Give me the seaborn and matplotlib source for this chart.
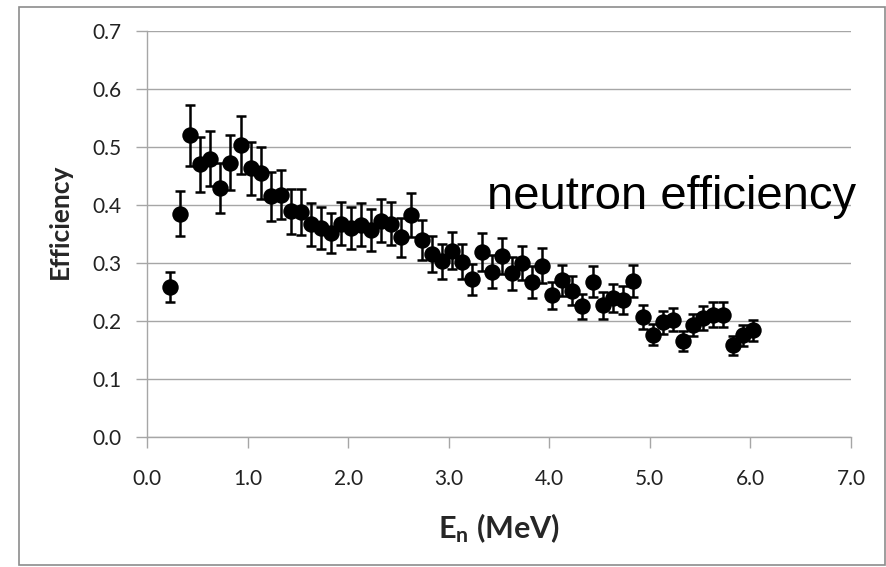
import numpy as np
import pandas as pd
import matplotlib
matplotlib.use('Agg')
import matplotlib.pyplot as plt
from matplotlib.patches import Rectangle
import seaborn as sns

# Data
energy = [0.23, 0.33, 0.43, 0.53, 0.63, 0.73, 0.83, 0.93, 1.03, 1.13,
          1.23, 1.33, 1.43, 1.53, 1.63, 1.73, 1.83, 1.93, 2.03, 2.13,
          2.23, 2.33, 2.43, 2.53, 2.63, 2.73, 2.83, 2.93, 3.03, 3.13,
          3.23, 3.33, 3.43, 3.53, 3.63, 3.73, 3.83, 3.93, 4.03, 4.13,
          4.23, 4.33, 4.43, 4.53, 4.63, 4.73, 4.83, 4.93, 5.03, 5.13,
          5.23, 5.33, 5.43, 5.53, 5.63, 5.73, 5.83, 5.93, 6.03]
efficiency = [0.258, 0.385, 0.520, 0.470, 0.480, 0.430, 0.473, 0.503, 0.463, 0.455,
              0.415, 0.418, 0.389, 0.388, 0.367, 0.360, 0.352, 0.368, 0.360, 0.366,
              0.357, 0.373, 0.368, 0.344, 0.383, 0.340, 0.315, 0.303, 0.321, 0.302,
              0.272, 0.319, 0.285, 0.312, 0.282, 0.300, 0.267, 0.295, 0.244, 0.270,
              0.252, 0.225, 0.268, 0.227, 0.240, 0.236, 0.269, 0.207, 0.176, 0.198,
              0.202, 0.166, 0.193, 0.205, 0.211, 0.211, 0.158, 0.175, 0.184]
error = [0.026, 0.039, 0.052, 0.047, 0.048, 0.043, 0.047, 0.050, 0.046, 0.045,
         0.042, 0.042, 0.039, 0.039, 0.037, 0.036, 0.035, 0.037, 0.036, 0.037,
         0.036, 0.037, 0.037, 0.034, 0.038, 0.034, 0.031, 0.030, 0.032, 0.030,
         0.027, 0.032, 0.028, 0.031, 0.028, 0.030, 0.027, 0.030, 0.024, 0.027,
         0.025, 0.022, 0.027, 0.023, 0.024, 0.024, 0.027, 0.021, 0.018, 0.020,
         0.020, 0.017, 0.019, 0.020, 0.021, 0.021, 0.016, 0.018, 0.018]

x_ticks = [0.0, 1.0, 2.0, 3.0, 4.0, 5.0, 6.0, 7.0]
y_ticks = [0.0, 0.1, 0.2, 0.3, 0.4, 0.5, 0.6, 0.7]

df = pd.DataFrame({'energy': energy, 'efficiency': efficiency, 'error': error})

sns.set_style('white')
plt.rcParams['font.family'] = ['Lato', 'DejaVu Sans']
plt.rcParams['mathtext.fontset'] = 'custom'
plt.rcParams['mathtext.rm'] = 'Lato'
plt.rcParams['mathtext.bf'] = 'Lato:bold'

fig = plt.figure(figsize=(8.87, 5.67), dpi=100)
ax = fig.add_axes([0.1657, 0.2293, 0.7937, 0.7160])

# error bars, then the markers on top
ax.errorbar(df['energy'], df['efficiency'], yerr=df['error'], fmt='none',
            ecolor='black', elinewidth=1.8, capsize=3.5, capthick=1.8, zorder=2)
sns.scatterplot(data=df, x='energy', y='efficiency', ax=ax, color='black',
                s=140, edgecolor='black', linewidth=0, zorder=3)

ax.set_xlim(0, 7)
ax.set_ylim(0, 0.7)
ax.set_xticks(x_ticks)
ax.set_yticks(y_ticks)
ax.set_xticklabels([f'{v:.1f}' for v in x_ticks])
ax.set_yticklabels([f'{v:.1f}' for v in y_ticks])

gray = '#a6a6a6'
ax.grid(axis='y', color=gray, linewidth=1)
ax.set_axisbelow(True)
for side in ['top', 'right']:
    ax.spines[side].set_visible(False)
for side in ['left', 'bottom']:
    ax.spines[side].set_color(gray)
    ax.spines[side].set_linewidth(1)
ax.tick_params(axis='both', which='both', length=8, width=1, color=gray,
               labelsize=15, labelcolor='#222222')
ax.tick_params(axis='x', pad=15, direction='out', bottom=True)
ax.tick_params(axis='y', pad=10, direction='out', left=True)

ax.set_xlabel('$\\mathbf{E_n}$ (MeV)', fontsize=22, fontweight='bold', labelpad=16)
ax.set_ylabel('Efficiency', fontsize=19, fontweight='bold')
ax.yaxis.set_label_coords(-0.107, 0.532)

ax.text(5.22, 0.413, 'neutron efficiency', fontsize=34, family='Liberation Sans',
        ha='center', va='center', color='black')

# outer frame of the chart area
fig.patches.append(Rectangle((19 / 887, 2 / 567), 866 / 887, 558 / 567,
                             transform=fig.transFigure, fill=False,
                             edgecolor='#8c8c8c', linewidth=1.2))

fig.savefig('out.png', dpi=100)
